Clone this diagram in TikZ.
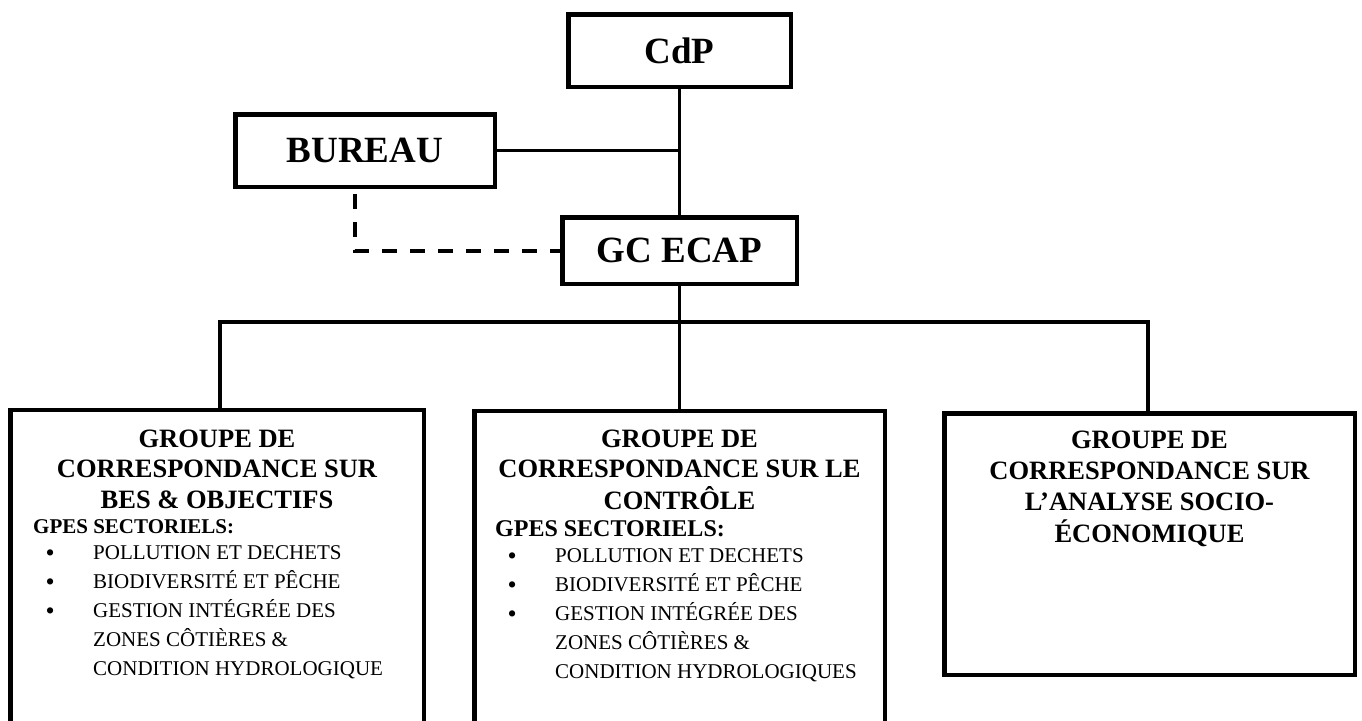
\documentclass[tikz,border=0pt]{standalone}
\usepackage{fontspec}
\setmainfont{Liberation Serif}
\newcommand{\blt}{\llap{\raisebox{-2.5pt}{\fontsize{26}{26}\selectfont\textbullet}\hspace{38.5pt}}}
\begin{document}
\begin{tikzpicture}[x=1pt,y=-1pt,
  hdr/.style={draw, line width=4.5pt, inner sep=0pt, font=\bfseries\fontsize{37}{40}\selectfont},
  grp/.style={draw, line width=4.5pt, inner sep=0pt},
  conn/.style={line width=3.2pt},
  dashconn/.style={line width=4.5pt, dash pattern=on 15pt off 13pt},
  txt/.style={inner sep=0pt, anchor=base},
  ttl/.style={txt, font=\bfseries\fontsize{26.5}{30.5}\selectfont},
  lst/.style={inner sep=0pt, anchor=base west, font=\fontsize{21}{29}\selectfont}]
\clip (0,0) rectangle (1362,720);
\fill[white] (0,0) rectangle (1362,720);
% header boxes
\node[hdr, minimum width=222.5pt, minimum height=72.5pt] (cdp) at (679.5,50.5) {CdP};
\node[hdr, minimum width=259.5pt, minimum height=72.5pt] (bureau) at (365,150.5) {BUREAU};
\node[hdr, minimum width=234.5pt, minimum height=66.5pt] (gc) at (679.5,250.5) {GC ECAP};
% group boxes
\node[grp, minimum width=413.5pt, minimum height=334.75pt] (b1) at (217,577.6) {};
\node[grp, minimum width=410.5pt, minimum height=333.75pt] (b2) at (679.5,578.1) {};
\node[grp, minimum width=410.5pt, minimum height=261.5pt] (b3) at (1149.5,544) {};
% connectors
\coordinate (hl) at (220,322);
\coordinate (hr) at (1148,322);
\coordinate (dc) at (355,251);
\draw[conn] (cdp.south) -- (gc.north);
\draw[conn] (bureau.east) -- (bureau.east -| cdp.south);
\draw[conn] (gc.south) -- (gc.south |- hl);
\draw[conn] (hl |- b1.north) -- (hl) -- (hr) -- (hr |- b3.north);
\draw[conn] (b2.north) -- (b2.north |- hl);
\draw[dashconn] ([yshift=-5.25pt]dc |- bureau.south) -- (dc) -- (dc -| gc.west);
% box 1 text
\node[ttl] (t1) at (217,447) {\begin{tabular}[t]{@{}c@{}}GROUPE DE\\CORRESPONDANCE SUR\\BES \& OBJECTIFS\end{tabular}};
\node[txt, anchor=base west, font=\bfseries\fontsize{21}{25}\selectfont] (g1) at (33,533) {GPES SECTORIELS:};
\node[lst] (l1) at (93,559) {\begin{tabular}[t]{@{}l@{}}\blt POLLUTION ET DECHETS\\\blt BIODIVERSITÉ ET PÊCHE\\\blt GESTION INTÉGRÉE DES\\ZONES CÔTIÈRES \&\\CONDITION HYDROLOGIQUE\end{tabular}};
% box 2 text
\node[ttl] (t2) at (679.5,447) {\begin{tabular}[t]{@{}c@{}}GROUPE DE\\CORRESPONDANCE SUR LE\\CONTRÔLE\end{tabular}};
\node[txt, anchor=base west, font=\bfseries\fontsize{24}{28}\selectfont] (g2) at (495,536) {GPES SECTORIELS:};
\node[lst] (l2) at (555,562) {\begin{tabular}[t]{@{}l@{}}\blt POLLUTION ET DECHETS\\\blt BIODIVERSITÉ ET PÊCHE\\\blt GESTION INTÉGRÉE DES\\ZONES CÔTIÈRES \&\\CONDITION HYDROLOGIQUES\end{tabular}};
% box 3 text
\node[txt, font=\bfseries\fontsize{26.5}{31}\selectfont] (t3) at (1149.5,448) {\begin{tabular}[t]{@{}c@{}}GROUPE DE\\CORRESPONDANCE SUR\\L’ANALYSE SOCIO-\\ÉCONOMIQUE\end{tabular}};
\end{tikzpicture}
\end{document}
